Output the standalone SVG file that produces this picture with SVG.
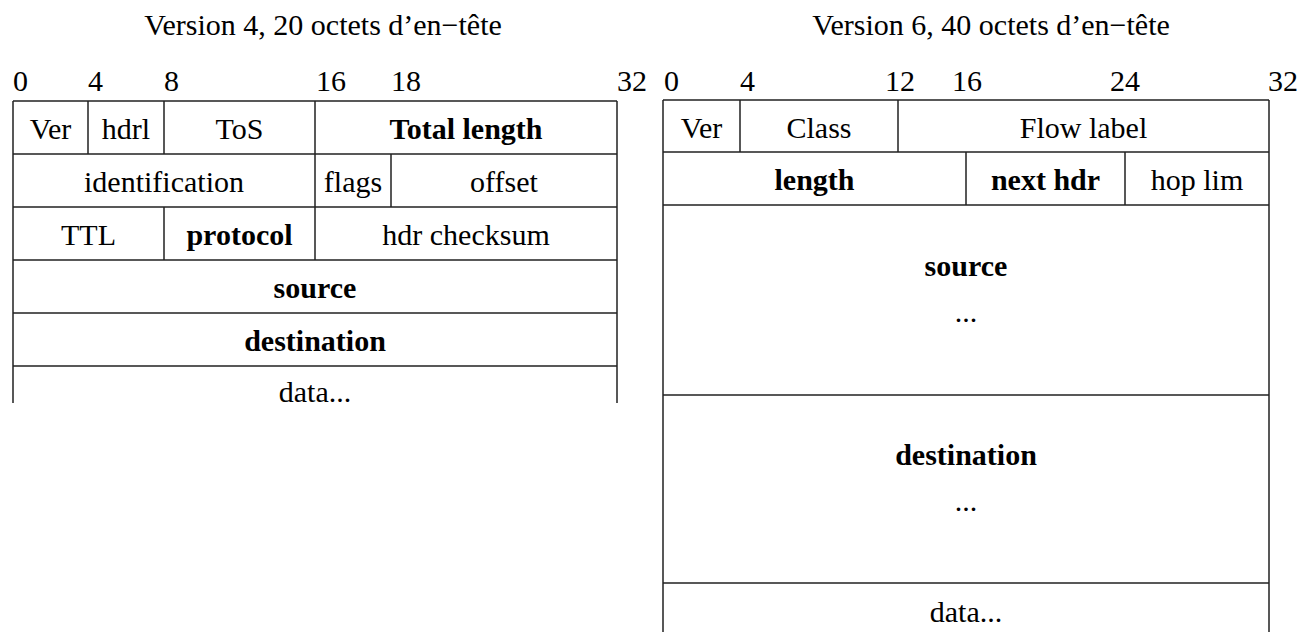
<svg xmlns="http://www.w3.org/2000/svg" width="1316" height="632" viewBox="0 0 1316 632">
<style>
.c{text-anchor:middle}
.b{font-weight:bold}
.g{stroke:#222;stroke-width:1.5;fill:none}
</style>
<rect width="1316" height="632" fill="#fff"/>
<g font-family="'Liberation Serif', serif" font-size="30" fill="#000">
<g id="titles">
<text class="c" x="323" y="35">Version 4, 20 octets d’en−tête</text>
<text class="c" x="991" y="35">Version 6, 40 octets d’en−tête</text>
</g>
<g id="bits-v4">
<text x="13" y="91">0</text>
<text x="88" y="91">4</text>
<text x="164" y="91">8</text>
<text x="316" y="91">16</text>
<text x="391" y="91">18</text>
<text x="617" y="91">32</text>
</g>
<g id="bits-v6">
<text x="664" y="91">0</text>
<text x="740" y="91">4</text>
<text x="885" y="91">12</text>
<text x="952" y="91">16</text>
<text x="1110" y="91">24</text>
<text x="1268" y="91">32</text>
</g>
<g id="v4-ver"><text class="c" x="50.5" y="139">Ver</text></g>
<g id="v4-hdrl"><text class="c" x="126" y="139">hdrl</text></g>
<g id="v4-tos"><text class="c" x="239.5" y="139">ToS</text></g>
<g id="v4-total-length"><text class="c b" x="466" y="139">Total length</text></g>
<g id="v4-identification"><text class="c" x="164" y="192">identification</text></g>
<g id="v4-flags"><text class="c" x="353" y="192">flags</text></g>
<g id="v4-offset"><text class="c" x="504" y="192">offset</text></g>
<g id="v4-ttl"><text class="c" x="88.5" y="245">TTL</text></g>
<g id="v4-protocol"><text class="c b" x="239.5" y="245">protocol</text></g>
<g id="v4-checksum"><text class="c" x="466" y="245">hdr checksum</text></g>
<g id="v4-source"><text class="c b" x="315" y="298">source</text></g>
<g id="v4-destination"><text class="c b" x="315" y="351">destination</text></g>
<g id="v4-data"><text class="c" x="315" y="402">data...</text></g>
<g id="v6-ver"><text class="c" x="701.5" y="138">Ver</text></g>
<g id="v6-class"><text class="c" x="819" y="138">Class</text></g>
<g id="v6-flow-label"><text class="c" x="1083.5" y="138">Flow label</text></g>
<g id="v6-length"><text class="c b" x="814.5" y="190">length</text></g>
<g id="v6-next-hdr"><text class="c b" x="1045.5" y="190">next hdr</text></g>
<g id="v6-hop-lim"><text class="c" x="1197" y="190">hop lim</text></g>
<g id="v6-source"><text class="c b" x="966" y="276">source</text><text class="c" x="966" y="322">...</text></g>
<g id="v6-destination"><text class="c b" x="966" y="465">destination</text><text class="c" x="966" y="511">...</text></g>
<g id="v6-data"><text class="c" x="966" y="622">data...</text></g>
</g>
<g id="grid" class="g">
<path d="M13 101V403M617 101V403M13 101H617M13 154H617M13 207H617M13 260H617M13 313H617M13 366H617"/>
<path d="M88 101V154M164 101V154M315 101V154M315 154V207M391 154V207M164 207V260M315 207V260"/>
<path d="M663 100V632M1269 100V632M663 100H1269M663 152H1269M663 205H1269M663 395H1269M663 583H1269"/>
<path d="M740 100V152M898 100V152M966 152V205M1125 152V205"/>
</g>
</svg>
